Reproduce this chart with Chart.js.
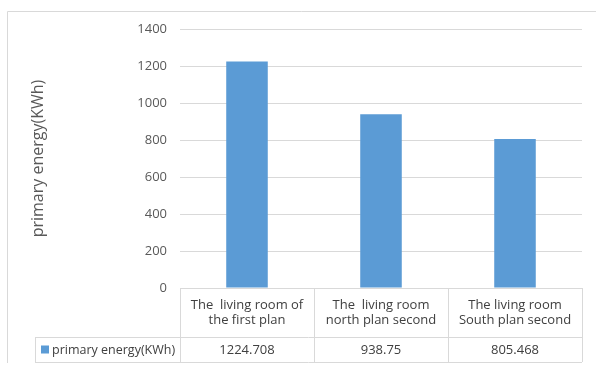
<!DOCTYPE html>
<html>
<head>
<meta charset="utf-8">
<script src="https://cdn.jsdelivr.net/npm/chart.js@4/dist/chart.umd.min.js"></script>
<style>
  html, body { margin: 0; padding: 0; background: #fff; }
  canvas { display: block; }
</style>
</head>
<body>
<canvas id="grafico" width="596" height="367"></canvas>
<script>
/* dados do gráfico */
const categorias = [
    ["The  living room of", "the first plan"],
    ["The  living room", "north plan second"],
    ["The living room", "South plan second"]
];
const serieNome = "primary energy(KWh)";
const valores = [1224.708, 938.75, 805.468];
const valoresTexto = ["1224.708", "938.75", "805.468"];
const tickMin = 0, tickMax = 1400, tickPasso = 200;

const FONTE = "'Open Sans', 'DejaVu Sans', sans-serif";
const AZUL = "#5b9bd5";
const LINHA = "#d9d9d9";

/* tabela de dados abaixo do eixo + moldura externa */
const tabelaPlugin = {
    id: "tabelaDados",
    afterDraw(chart) {
        const { ctx, chartArea: area, scales: { x } } = chart;
        const topo = area.bottom;
        const meio = x.bottom;
        const base = meio + 25;
        const esq = 35;
        const passo = (area.right - area.left) / categorias.length;

        ctx.save();
        ctx.strokeStyle = LINHA;
        ctx.lineWidth = 1;

        // moldura do gráfico
        ctx.beginPath();
        ctx.moveTo(7.5, 363);
        ctx.lineTo(7.5, 11.5);
        ctx.lineTo(596, 11.5);
        ctx.stroke();

        // linhas horizontais
        ctx.beginPath();
        ctx.moveTo(area.left, Math.round(topo) + 0.5);
        ctx.lineTo(area.right, Math.round(topo) + 0.5);
        ctx.moveTo(esq, Math.round(meio) + 0.5);
        ctx.lineTo(area.right, Math.round(meio) + 0.5);
        ctx.moveTo(esq, Math.round(base) + 0.5);
        ctx.lineTo(area.right, Math.round(base) + 0.5);
        // linhas verticais
        for (let i = 0; i <= categorias.length; i++) {
            const px = Math.round(area.left + i * passo) + 0.5;
            ctx.moveTo(px, topo);
            ctx.lineTo(px, base);
        }
        ctx.moveTo(esq + 0.5, meio);
        ctx.lineTo(esq + 0.5, base);
        ctx.stroke();

        // legenda da série
        const yTexto = (meio + base) / 2;
        ctx.fillStyle = AZUL;
        ctx.fillRect(41, yTexto - 4, 8, 8);
        ctx.fillStyle = "#404040";
        ctx.font = "12.5px " + FONTE;
        ctx.textBaseline = "middle";
        ctx.textAlign = "left";
        ctx.fillText(serieNome, 52, yTexto + 1);

        // valores
        ctx.font = "13px " + FONTE;
        ctx.textAlign = "center";
        valoresTexto.forEach((v, i) => {
            ctx.fillText(v, x.getPixelForValue(i), yTexto + 1);
        });
        ctx.restore();
    }
};

new Chart(document.querySelector("#grafico"), {
    type: "bar",
    data: {
        labels: categorias,
        datasets: [{
            label: serieNome,
            data: valores,
            backgroundColor: AZUL,
            categoryPercentage: 1,
            barPercentage: 0.31
        }]
    },
    options: {
        responsive: false,
        animation: false,
        layout: { padding: { left: 7, top: 29, right: 14, bottom: 30 } },
        plugins: {
            legend: { display: false },
            tooltip: { enabled: false }
        },
        scales: {
            x: {
                grid: { display: false },
                border: { display: false },
                ticks: {
                    color: "#404040",
                    font: { family: FONTE, size: 13, lineHeight: 1.2 },
                    padding: 1,
                    maxRotation: 0,
                    autoSkip: false
                },
                afterFit(scale) { scale.height = 49; }
            },
            y: {
                min: tickMin,
                max: tickMax,
                ticks: {
                    stepSize: tickPasso,
                    color: "#595959",
                    font: { family: FONTE, size: 13 },
                    padding: 13,
                    callback: v => String(v)
                },
                grid: { color: LINHA, drawTicks: false },
                border: { display: false },
                title: {
                    display: true,
                    text: serieNome,
                    color: "#595959",
                    font: { family: FONTE, size: 16 },
                    padding: { top: 22, bottom: 0 }
                },
                afterFit(scale) { scale.width = 173; }
            }
        }
    },
    plugins: [tabelaPlugin]
});
</script>
</body>
</html>
